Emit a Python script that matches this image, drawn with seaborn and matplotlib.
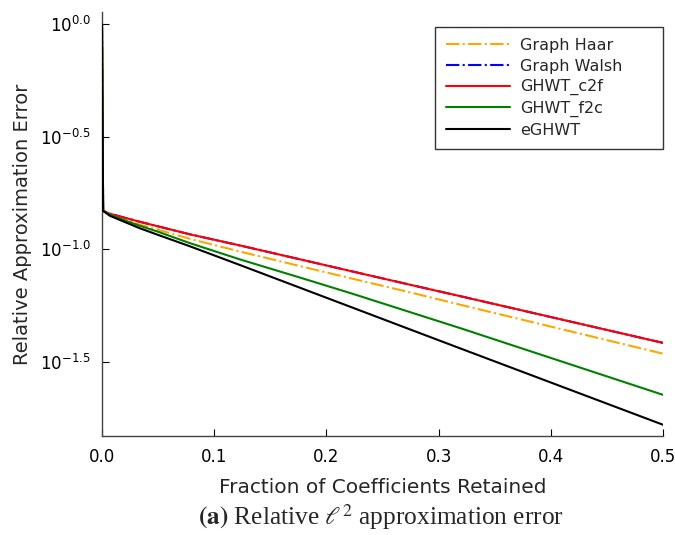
import numpy as np
import pandas as pd
import matplotlib
matplotlib.use("Agg")
import matplotlib.pyplot as plt
import seaborn as sns

# Fraction of coefficients retained
frac = [0.0, 0.001, 0.007, 0.034, 0.05, 0.078, 0.123, 0.176, 0.221, 0.275, 0.319, 0.5]
# log10 of relative approximation error
log_haar = [0.0, -0.829, -0.844, -0.891, -0.913, -0.953, -1.010, -1.074, -1.128, -1.192, -1.246, -1.464]
log_walsh = [0.0, -0.829, -0.842, -0.878, -0.898, -0.933, -0.983, -1.044, -1.096, -1.158, -1.208, -1.416]
log_c2f = [0.0, -0.829, -0.842, -0.878, -0.898, -0.933, -0.983, -1.044, -1.096, -1.158, -1.208, -1.416]
log_f2c = [0.0, -0.829, -0.847, -0.896, -0.922, -0.972, -1.045, -1.125, -1.194, -1.280, -1.350, -1.647]
log_eghwt = [0.0, -0.829, -0.851, -0.907, -0.936, -0.986, -1.070, -1.170, -1.255, -1.357, -1.440, -1.780]

series_names = ["Graph Haar", "Graph Walsh", "GHWT_c2f", "GHWT_f2c", "eGHWT"]
series_vals = [log_haar, log_walsh, log_c2f, log_f2c, log_eghwt]
colors = ["#FFA500", "#0000FF", "#FF0000", "#008000", "#000000"]
styles = ["-.", "-.", "-", "-", "-"]
zorders = [3, 2, 4, 4, 4]

ytick_exp = [0.0, -0.5, -1.0, -1.5]
ytick_labels = ["$10^{0.0}$", "$10^{-0.5}$", "$10^{-1.0}$", "$10^{-1.5}$"]
xticks = [0.0, 0.1, 0.2, 0.3, 0.4, 0.5]
xtick_labels = ["0.0", "0.1", "0.2", "0.3", "0.4", "0.5"]

sns.set_style("ticks")
plt.rcParams["font.family"] = ["DejaVu Sans"]

fig = plt.figure(figsize=(6.75, 5.35), dpi=100)
ax = fig.add_axes([102 / 675, 1 - 436 / 535, 561 / 675, 424 / 535])

for name, vals, c, ls, z in zip(series_names, series_vals, colors, styles, zorders):
    df = pd.DataFrame({"x": frac, "y": np.power(10.0, vals)})
    sns.lineplot(data=df, x="x", y="y", ax=ax, color=c, linestyle=ls,
                 linewidth=1.5, label=name, zorder=z)

ax.set_yscale("log")
ax.set_xlim(0.0, 0.5)
ax.set_ylim(10 ** -1.83, 10 ** 0.055)
ax.set_yticks([10 ** e for e in ytick_exp])
ax.set_yticklabels(ytick_labels)
ax.yaxis.set_minor_locator(matplotlib.ticker.NullLocator())
ax.set_xticks(xticks)
ax.set_xticklabels(xtick_labels)
ax.tick_params(direction="in", length=5, width=0.8, labelsize=12, colors="black")
ax.tick_params(axis="y", pad=8)
ax.tick_params(axis="x", pad=9)

for s in ["top", "right"]:
    ax.spines[s].set_visible(False)
for s in ["left", "bottom"]:
    ax.spines[s].set_color("#444444")
    ax.spines[s].set_linewidth(1.0)

ax.set_xlabel("Fraction of Coefficients Retained", fontsize=14.5, labelpad=8)
ax.set_ylabel("Relative Approximation Error", fontsize=14, labelpad=6)

leg = ax.legend(loc="upper left", bbox_to_anchor=(0.5936, 0.965 - 0.29, 0.4064, 0.29),
                mode="expand", borderaxespad=0,
                frameon=True, fancybox=False, fontsize=11.5, handlelength=4.0,
                handletextpad=0.63, labelspacing=0.35, borderpad=0.7)
leg.get_frame().set_edgecolor("black")
leg.get_frame().set_linewidth(1.0)

fig.text(0.564, 1 - 517 / 535, r"$\mathbf{(a)}$ Relative $\ell^2$ approximation error",
         ha="center", va="center", fontsize=18.3, family=["Liberation Serif"],
         math_fontfamily="stix")

fig.savefig("out.png", dpi=100)
